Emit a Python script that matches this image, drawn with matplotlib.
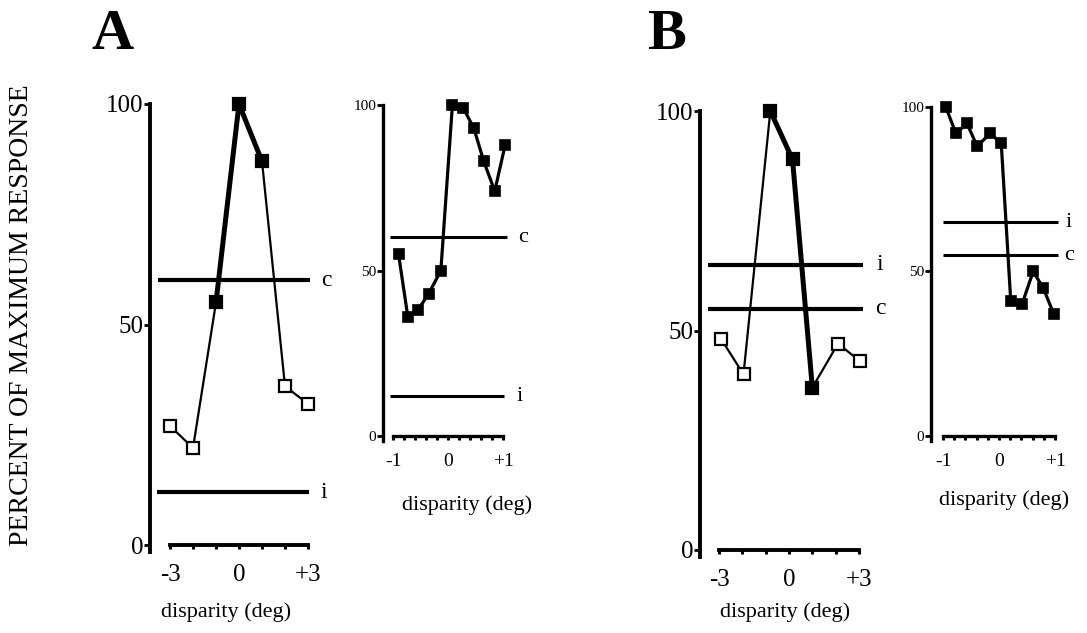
import matplotlib
matplotlib.use("Agg")
import matplotlib.pyplot as plt

plt.rcParams['font.family'] = ['Liberation Serif', 'DejaVu Serif']

# ---------------- data ----------------
A_big_x = [-3, -2, -1, 0, 1, 2, 3]
A_big_y = [27, 22, 55, 100, 87, 36, 32]
A_big_filled = [False, False, True, True, True, False, False]
A_big_c = 60
A_big_i = 12

A_small_x = [-0.9, -0.73, -0.55, -0.35, -0.13, 0.08, 0.28, 0.47, 0.65, 0.85, 1.04]
A_small_y = [55, 36, 38, 43, 50, 100, 99, 93, 83, 74, 88]
A_small_c = 60
A_small_i = 12

B_big_x = [-2.9, -1.95, -0.8, 0.15, 1.0, 2.1, 3.05]
B_big_y = [48, 40, 100, 89, 37, 47, 43]
B_big_filled = [False, False, True, True, True, False, False]
B_big_i = 65
B_big_c = 55

B_small_x = [-0.95, -0.77, -0.57, -0.39, -0.16, 0.04, 0.21, 0.41, 0.61, 0.79, 0.98]
B_small_y = [100, 92, 95, 88, 92, 89, 41, 40, 50, 45, 37]
B_small_i = 65
B_small_c = 55

big_xticks = [-3, -2, -1, 0, 1, 2, 3]
big_xticklabels = ['-3', '', '', '0', '', '', '+3']
small_xticks = [-1, -0.8, -0.6, -0.4, -0.2, 0, 0.2, 0.4, 0.6, 0.8, 1.0]
small_xticklabels = ['-1', '', '', '', '', '0', '', '', '', '', '+1']
yticks = [0, 50, 100]
yticklabels = ['0', '50', '100']

W, H = 1087, 633
fig = plt.figure(figsize=(W / 100, H / 100), dpi=100)


def place(xa, pxa, xb, pxb, pya0, pya100, xlim, ylim):
    sx = (pxb - pxa) / (xb - xa)
    left = pxa + (xlim[0] - xa) * sx
    right = pxa + (xlim[1] - xa) * sx
    sy = (pya100 - pya0) / 100.0
    bottom = pya0 + ylim[0] * sy
    top = pya0 + ylim[1] * sy
    ax = fig.add_axes([left / W, 1 - bottom / H, (right - left) / W, (bottom - top) / H])
    ax.set_xlim(*xlim)
    ax.set_ylim(*ylim)
    ax.patch.set_alpha(0)
    return ax


def style(ax, xticks, xlabels, xb, spine_lw, ytick_fs, xtick_fs, xpad):
    for s in ('top', 'right'):
        ax.spines[s].set_visible(False)
    ax.spines['left'].set_bounds(-1.5, 100)
    ax.spines['left'].set_linewidth(spine_lw)
    ax.spines['bottom'].set_position(('data', 0))
    ax.spines['bottom'].set_bounds(xb[0], xb[1])
    ax.spines['bottom'].set_linewidth(spine_lw)
    ax.set_yticks(yticks)
    ax.set_yticklabels(yticklabels, fontsize=ytick_fs)
    ax.set_xticks(xticks)
    ax.set_xticklabels(xlabels, fontsize=xtick_fs)
    ax.tick_params(axis='y', direction='out', length=4, width=2, pad=1)
    ax.tick_params(axis='x', direction='out', length=3, width=2.2, pad=xpad)


def draw_series(ax, xs, ys, filled, thick, thin, ms, mew):
    for k in range(len(xs) - 1):
        lw = thick if (filled[k] and filled[k + 1]) else thin
        ax.plot(xs[k:k + 2], ys[k:k + 2], color='black', lw=lw,
                solid_capstyle='butt', zorder=2, clip_on=False)
    for x, y, f in zip(xs, ys, filled):
        ax.plot([x], [y], marker='s', ms=ms, mew=mew, mec='black',
                mfc='black' if f else 'white', zorder=3, clip_on=False, ls='none')


def ref_line(ax, y, x0, x1, lw, label, lx, fs):
    ax.plot([x0, x1], [y, y], color='black', lw=lw, solid_capstyle='butt', clip_on=False)
    ax.text(lx, y, label, fontsize=fs, va='center', ha='left', clip_on=False)


# ---- Panel A big ----
axA = place(-3, 170, 3, 308, 545, 104, (-3.87, 3.9), (-3, 103))
style(axA, big_xticks, big_xticklabels, (-3, 3), 2.8, 18, 18, 11)
draw_series(axA, A_big_x, A_big_y, A_big_filled, 3.6, 1.6, 8.5, 1.6)
ref_line(axA, A_big_c, -3.52, 3.09, 3.0, 'c', 3.55, 17)
ref_line(axA, A_big_i, -3.57, 3.04, 3.0, 'i', 3.55, 17)

# ---- Panel A small ----
axa = place(-1, 393, 1, 503, 436, 105, (-1.18, 1.25), (-3, 103))
style(axa, small_xticks, small_xticklabels, (-1, 1), 2.4, 11, 14, 9)
draw_series(axa, A_small_x, A_small_y, [True] * len(A_small_x), 2.3, 2.3, 7, 1.2)
ref_line(axa, A_small_c, -1.05, 1.07, 2.2, 'c', 1.28, 16)
ref_line(axa, A_small_i, -1.05, 1.02, 2.2, 'i', 1.24, 16)

# ---- Panel B big ----
axB = place(-3, 719, 3, 859, 550, 111, (-3.81, 3.9), (-3, 103))
style(axB, big_xticks, big_xticklabels, (-3, 3), 2.8, 18, 18, 11)
draw_series(axB, B_big_x, B_big_y, B_big_filled, 3.6, 1.6, 8.5, 1.6)
ref_line(axB, B_big_i, -3.47, 3.17, 3.0, 'i', 3.75, 17)
ref_line(axB, B_big_c, -3.47, 3.17, 3.0, 'c', 3.7, 17)

# ---- Panel B small ----
axb = place(-1, 943, 1, 1055, 436, 107, (-1.214, 1.25), (-3, 103))
style(axb, small_xticks, small_xticklabels, (-1, 1), 2.4, 11, 14, 9)
draw_series(axb, B_small_x, B_small_y, [True] * len(B_small_x), 2.3, 2.3, 7, 1.2)
ref_line(axb, B_small_i, -1.0, 1.05, 2.2, 'i', 1.19, 16)
ref_line(axb, B_small_c, -1.0, 1.05, 2.2, 'c', 1.17, 16)

# ---- texts ----
def ftext(px, py, s, **kw):
    fig.text(px / W, 1 - py / H, s, ha='center', va='center', **kw)

ftext(112, 35, 'A', fontsize=42, fontweight='bold')
ftext(666, 35, 'B', fontsize=42, fontweight='bold')
ftext(22, 315, 'PERCENT OF MAXIMUM RESPONSE', fontsize=20, rotation=90)
ftext(226, 612, 'disparity (deg)', fontsize=16)
ftext(785, 612, 'disparity (deg)', fontsize=16)
ftext(467, 505, 'disparity (deg)', fontsize=16)
ftext(1004, 500, 'disparity (deg)', fontsize=16)

fig.savefig('out.png', dpi=100)
